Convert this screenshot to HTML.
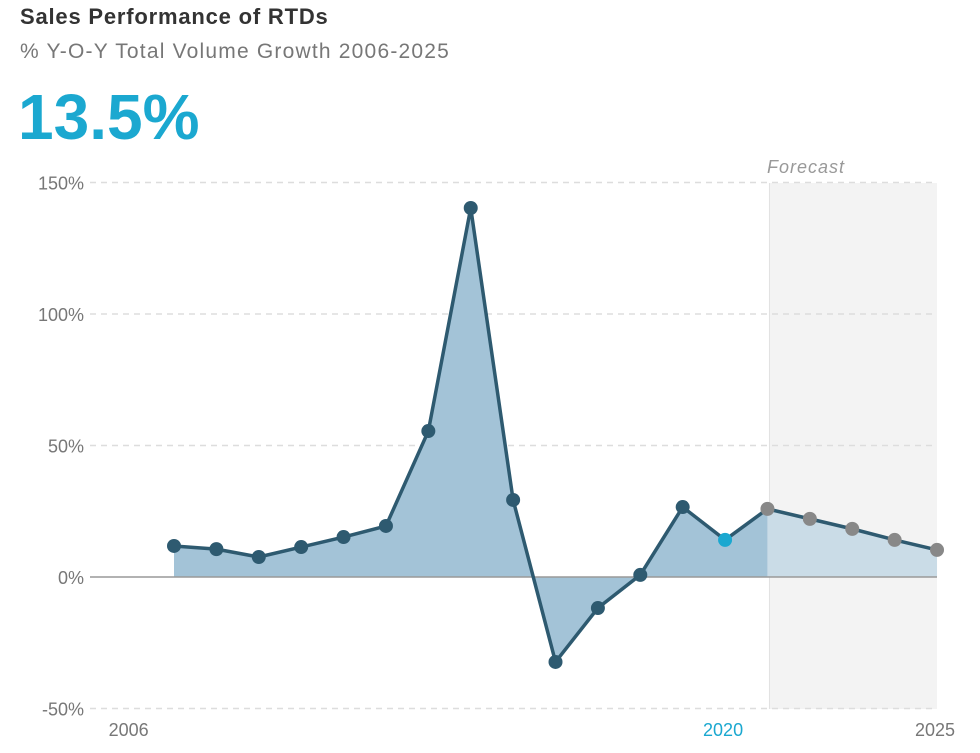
<!DOCTYPE html>
<html><head><meta charset="utf-8"><style>
body{margin:0;background:#fff;width:980px;height:753px;overflow:hidden;font-family:"Liberation Sans",sans-serif;}
#t{position:absolute;left:20px;top:4px;font-size:22px;letter-spacing:0.8px;font-weight:bold;color:#333;}
#s{position:absolute;left:20px;top:40px;font-size:21px;letter-spacing:1.2px;color:#777;}
#n{position:absolute;left:18px;top:80px;font-size:64px;font-weight:bold;color:#1ba8d0;}
svg{position:absolute;left:0;top:0;}
</style></head><body>
<div id="t">Sales Performance of RTDs</div>
<div id="s">% Y-O-Y Total Volume Growth 2006-2025</div>
<div id="n">13.5%</div>
<svg id="c" width="980" height="753"></svg>
<script>
const years=[2007,2008,2009,2010,2011,2012,2013,2014,2015,2016,2017,2018,2019,2020,2021,2022,2023,2024,2025];
const values=[11.8,10.6,7.6,11.4,15.2,19.4,55.5,140.3,29.3,-32.3,-11.8,0.8,26.6,14.1,25.9,22.1,18.3,14.1,10.3];
const yTicks=[150,100,50,0,-50];
const xLabels=[2006,2020,2025];
const forecastStart=2021;
const NS="http://www.w3.org/2000/svg";
const svg=document.getElementById('c');
const X=y=>174+(y-2007)*42.39;
const Y=v=>577-v*131.5/50;
function el(t,a,p){const e=document.createElementNS(NS,t);for(const k in a)e.setAttribute(k,a[k]);(p||svg).appendChild(e);return e;}
const fx=X(forecastStart)+2;
const fr=el('rect',{x:fx,y:183,width:937-fx,height:526,fill:'#f3f3f3'});


el('line',{x1:fx,y1:183,x2:fx,y2:709,stroke:'#e2e2e2'});
const ft=el('text',{x:806,y:173,'font-size':18,'font-style':'italic',fill:'#999','text-anchor':'middle','letter-spacing':1});ft.textContent='Forecast';


yTicks.forEach(v=>{
  if(v!==0){const g=el('line',{x1:90,x2:937,y1:Y(v),y2:Y(v),stroke:'#ddd','stroke-dasharray':'6,5','stroke-width':1.5});
  
  }
  const t=el('text',{x:84,y:Y(v)+7,'font-size':18,fill:'#777','text-anchor':'end'});t.textContent=v+'%';
  
  
});
const pts=years.map((y,i)=>[X(y),Y(values[i])]);
const fi=years.indexOf(forecastStart);
function area(a,b,fill,name){
  let d='M'+pts[a][0]+','+Y(0);
  for(let i=a;i<=b;i++)d+='L'+pts[i][0]+','+pts[i][1];
  d+='L'+pts[b][0]+','+Y(0)+'Z';
  const p=el('path',{d:d,fill:fill});
  
  
}
area(0,fi,'#a3c3d7','actual-area');
area(fi,years.length-1,'#cadce7','forecast-area');
const z=el('line',{x1:90,x2:937,y1:Y(0),y2:Y(0),stroke:'#999','stroke-width':1.5});


const ln=el('polyline',{points:pts.map(p=>p.join(',')).join(' '),fill:'none',stroke:'#2e5a70','stroke-width':3.5,'stroke-linejoin':'round'});


years.forEach((y,i)=>{
  const col=y===2020?'#1ba8d0':(y>=forecastStart?'#888':'#2e5a70');
  const c=el('circle',{cx:pts[i][0],cy:pts[i][1],r:7,fill:col});
  
  
});
xLabels.forEach(y=>{
  const t=el('text',{x:X(y)+(y===2006?-3:-2),y:736,'font-size':18,fill:y===2020?'#1ba8d0':'#777','text-anchor':'middle'});
  t.textContent=y;
  
  
});
</script>
</body></html>
